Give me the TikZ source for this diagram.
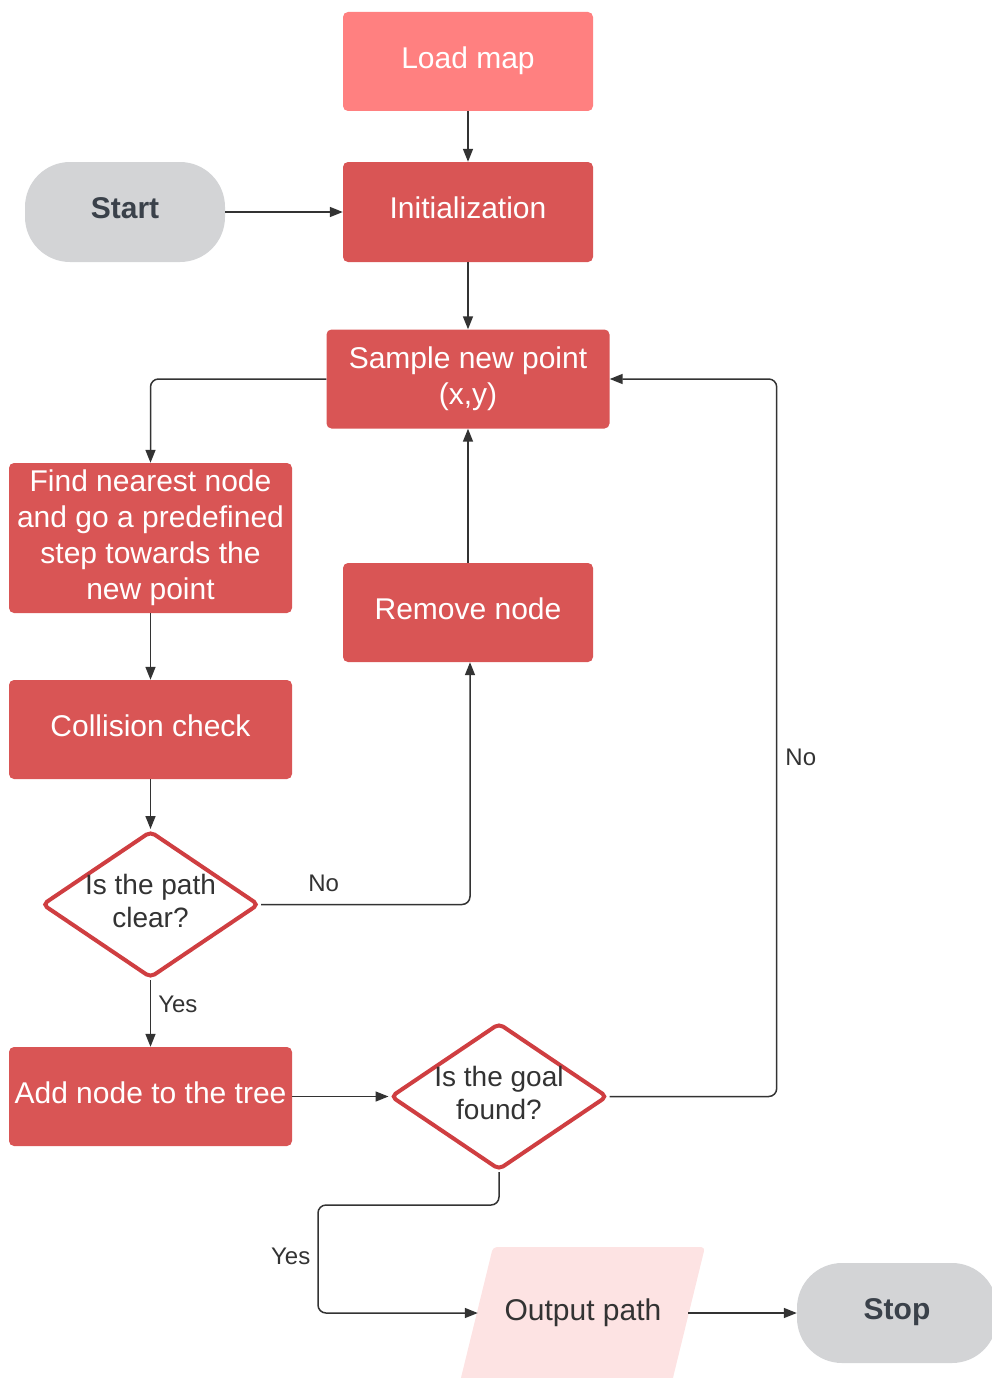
\documentclass[tikz,border=0pt]{standalone}
\usepackage{fontspec}
\setmainfont{Liberation Sans}
\usetikzlibrary{shapes.geometric,arrows.meta}
\definecolor{boxred}{HTML}{D95555}
\definecolor{lightred}{HTML}{FF8080}
\definecolor{pinkfill}{HTML}{FDE3E3}
\definecolor{termgray}{HTML}{D3D4D6}
\definecolor{termtext}{HTML}{3A414A}
\definecolor{linegray}{HTML}{333333}
\definecolor{diamred}{HTML}{CF3E41}
\begin{document}
\begin{tikzpicture}[x=1pt,y=-1pt,
  box/.style={fill=boxred, rounded corners=5pt, text=white, font=\fontsize{30}{36}\selectfont, align=center, inner sep=0pt},
  oneline/.style={text height=20pt, text depth=6.5pt},
  term/.style={fill=termgray, rounded corners=45pt, text=termtext, font=\fontsize{30}{36}\selectfont\bfseries, inner sep=0pt, minimum width=200pt, minimum height=100pt, text height=20pt, text depth=6.5pt},
  dia/.style={diamond, draw=diamred, fill=white, line width=4pt, rounded corners=5pt, inner sep=0pt, minimum width=217pt, minimum height=147pt},
  dtext/.style={text=linegray, font=\fontsize{28}{33}\selectfont, align=center, inner sep=0pt},
  conn/.style={draw=linegray, line width=1.5pt, rounded corners=8pt, -{Triangle[length=13pt,width=10pt]}},
  lbl/.style={text=linegray, font=\fontsize{24}{28}\selectfont, inner sep=0pt}
]
\useasboundingbox (0,0) rectangle (991,1378);

% nodes
\node[box, oneline, fill=lightred, minimum width=250pt, minimum height=99pt] (load) at (468,61.5) {Load map};
\node[box, oneline, minimum width=250pt, minimum height=100pt] (init) at (468,212) {Initialization};
\node[term] (start) at (125,212) {Start};
\node[box, minimum width=283pt, minimum height=99pt] (sample) at (468,379) {Sample new point\\(x,y)};
\node[box, minimum width=283pt, minimum height=150pt] (find) at (150.5,538) {Find nearest node\\and go a predefined\\step towards the\\new point};
\node[box, oneline, minimum width=250pt, minimum height=99pt] (remove) at (468,612.5) {Remove node};
\node[box, oneline, minimum width=283pt, minimum height=99pt] (coll) at (150.5,729.5) {Collision check};
\node[dia] (d1) at (150.5,904.5) {};
\node[dtext] (d1t) at (150.5,901) {Is the path\\clear?};
\node[box, oneline, minimum width=283pt, minimum height=99pt] (add) at (150.5,1096.5) {Add node to the tree};
\node[dia] (d2) at (499,1096.5) {};
\node[dtext] (d2t) at (499,1093) {Is the goal\\found?};
\fill[pinkfill, rounded corners=4pt] (493,1247) -- (705,1247) -- (670,1390) -- (458,1390) -- cycle;
\node[text=linegray, font=\fontsize{30}{36}\selectfont, inner sep=0pt, minimum width=210pt, minimum height=40pt] (out) at (583,1313) {Output path};
\node[term] (stop) at (897,1313) {Stop};

\coordinate (yb) at (318,1205);

% connectors
\draw[conn] (load) -- (init);
\draw[conn] (start) -- (init);
\draw[conn] (init) -- (sample);
\draw[conn] (sample.west) -| (find.north);
\draw[conn] (find) -- (coll);
\draw[conn] (coll) -- (d1);
\draw[conn] (d1.east) -| node[lbl, pos=0.15, above=12pt] {No} ([xshift=2pt]remove.south);
\draw[conn] (remove) -- (sample);
\draw[conn] (d1) -- node[lbl, pos=0.36, right=7pt] {Yes} (add);
\draw[conn] (add) -- (d2);
\draw[conn] (d2.east) -| node[lbl, pos=0.736, right=8pt] {No} ([xshift=167pt]sample.east) -- (sample.east);
\draw[conn] (d2.south) |- (yb) |- node[lbl, pos=0.24, left=7pt] {Yes} (out.west);
\draw[conn] (out) -- (stop);
\end{tikzpicture}
\end{document}
